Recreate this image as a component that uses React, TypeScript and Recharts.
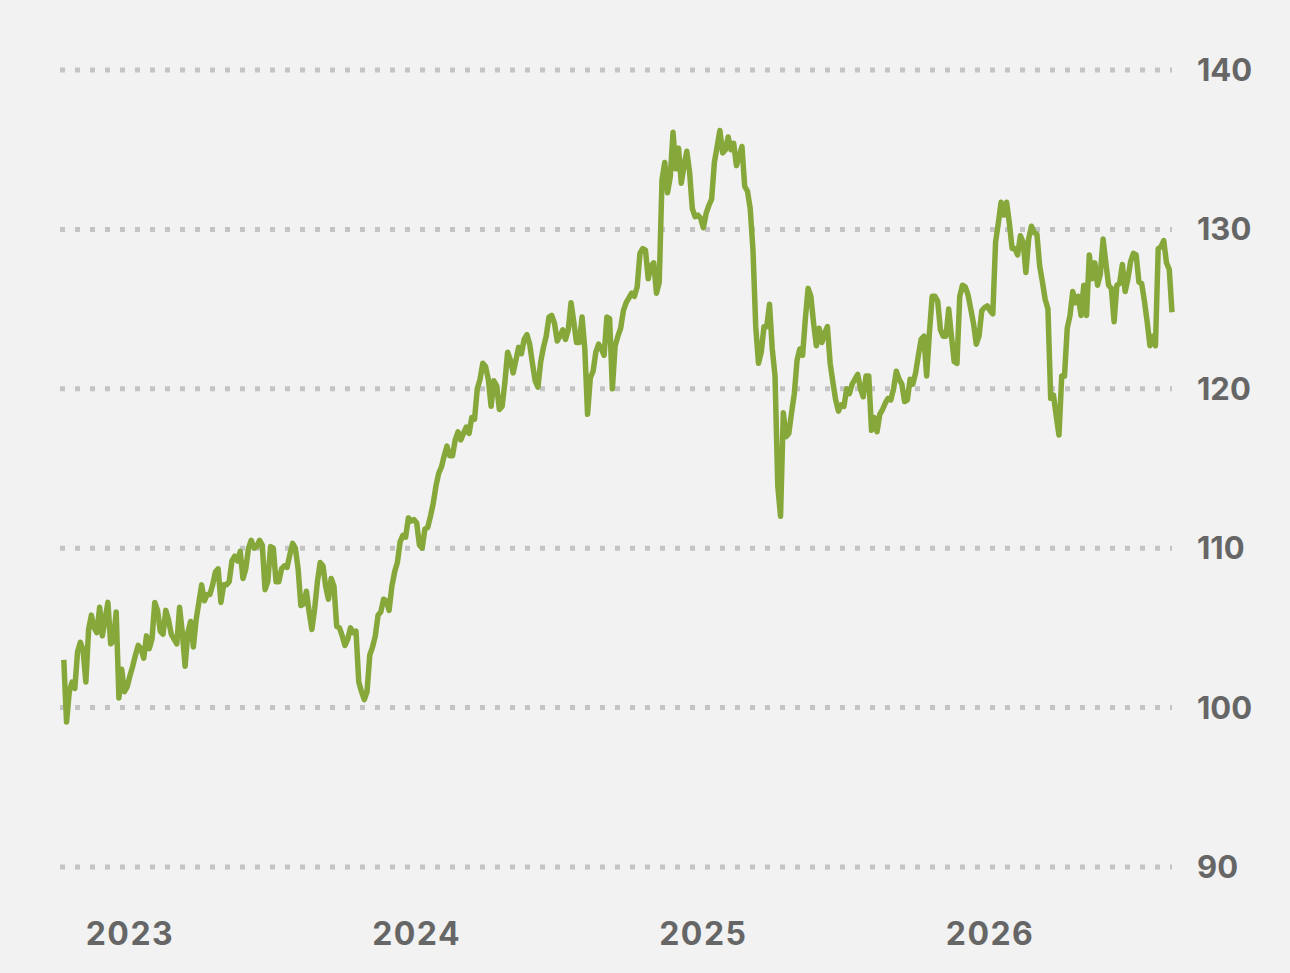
import * as React from "react"
import { CartesianGrid, Line, LineChart, XAxis, YAxis } from "recharts"

const stepsPerYear = 104
const firstStep2022 = 80
const values2022 = [
  103.0, 99.1, 101.0, 101.6, 101.2, 103.5, 104.1, 103.6, 101.6, 104.9, 105.8, 105.0,
  104.7, 106.3, 104.5, 105.6, 106.6, 104.0, 104.2, 106.0, 100.6, 102.4, 101.0, 101.3,
]
const values2023 = [
  102.0, 102.6, 103.3, 103.9, 103.7, 103.1, 104.5, 103.7, 104.3, 106.6, 106.1, 104.8,
  104.6, 106.1, 105.5, 104.6, 104.3, 104.0, 106.3, 104.7, 102.6, 104.7, 105.4, 103.8,
  105.5, 106.6, 107.7, 106.7, 107.1, 107.1, 107.7, 108.5, 108.7, 106.6, 107.7, 107.7,
  107.9, 109.2, 109.5, 109.2, 109.8, 108.1, 108.7, 110.0, 110.5, 110.0, 110.1, 110.5,
  110.2, 107.4, 107.9, 110.1, 110.0, 107.9, 107.9, 108.7, 108.9, 108.8, 109.6, 110.3,
  110.0, 108.7, 106.4, 106.5, 107.3, 106.0, 104.9, 106.2, 107.9, 109.1, 108.9, 107.6,
  106.8, 108.1, 107.6, 105.1, 105.0, 104.5, 103.9, 104.3, 105.0, 104.7, 104.8, 101.6,
  101.0, 100.5, 101.0, 103.3, 103.8, 104.5, 105.8, 106.0, 106.8, 106.7, 106.1, 107.6,
  108.5, 109.1, 110.4, 110.8, 110.7, 111.9, 111.7, 111.8,
]
const values2024 = [
  111.6, 110.2, 110.0, 111.2, 111.3, 112.0, 112.8, 113.9, 114.7, 115.1, 115.8, 116.4,
  115.8, 115.8, 116.8, 117.3, 116.8, 117.2, 117.6, 117.2, 118.2, 118.1, 120.0, 120.6,
  121.6, 121.4, 120.6, 118.9, 120.5, 120.2, 118.7, 118.9, 120.4, 122.3, 121.8, 121.0,
  121.8, 122.6, 122.2, 123.1, 123.4, 122.8, 121.6, 120.5, 120.1, 121.7, 122.6, 123.3,
  124.5, 124.6, 124.1, 123.0, 123.3, 123.7, 123.1, 123.7, 125.4, 124.2, 122.9, 122.9,
  124.5, 122.5, 118.4, 120.7, 121.1, 122.3, 122.8, 122.5, 122.1, 124.5, 124.4, 120.0,
  122.7, 123.3, 123.8, 124.9, 125.4, 125.7, 126.0, 125.8, 126.4, 128.5, 128.8, 128.7,
  126.9, 127.7, 127.9, 126.0, 126.7, 133.1, 134.2, 132.3, 133.3, 136.1, 133.8, 135.1,
  132.9, 134.0, 134.9, 133.6, 131.3, 130.8, 130.9, 130.7,
]
const values2025 = [
  130.1, 131.0, 131.5, 131.9, 134.2, 135.2, 136.2, 134.8, 135.0, 135.8, 135.0, 135.4,
  134.0, 134.6, 135.2, 132.7, 132.4, 131.3, 128.7, 123.9, 121.6, 122.3, 123.9, 123.9,
  125.3, 122.5, 120.8, 113.9, 112.0, 118.5, 117.0, 117.2, 118.5, 119.7, 121.8, 122.5,
  122.1, 124.4, 126.3, 125.8, 124.1, 122.7, 123.8, 122.9, 123.5, 123.9, 121.6, 120.4,
  119.3, 118.6, 119.0, 118.9, 120.0, 119.7, 120.3, 120.6, 120.9, 120.0, 119.5, 120.8,
  120.8, 117.4, 118.2, 117.3, 118.4, 118.7, 119.1, 119.4, 119.3, 120.0, 121.1, 120.6,
  120.3, 119.2, 119.3, 120.6, 120.3, 121.0, 122.1, 123.1, 123.3, 120.8, 123.5, 125.8,
  125.8, 125.5, 123.7, 123.3, 123.3, 125.0, 123.3, 121.7, 121.6, 125.8, 126.5, 126.4,
  125.9, 125.0, 124.1, 122.8, 123.3, 124.9, 125.1, 125.2,
]
const values2026 = [
  124.9, 124.7, 129.2, 130.4, 131.7, 130.9, 131.7, 130.4, 128.8, 128.8, 128.4, 129.6,
  129.2, 127.3, 129.4, 130.2, 129.8, 129.7, 127.7, 126.7, 125.6, 125.0, 119.4, 119.6,
  118.3, 117.1, 120.8, 120.8, 123.8, 124.6, 126.1, 125.4, 125.8, 124.6, 126.5, 124.6,
  128.4, 126.9, 127.9, 126.5, 127.2, 129.4, 127.9, 126.5, 126.3, 124.2, 126.5, 126.6,
  127.8, 126.1, 126.9, 128.0, 128.5, 128.4, 126.7, 126.6, 125.5, 124.2, 122.7, 123.3,
  122.7, 128.8, 128.9, 129.3, 127.9, 127.5, 124.8,
]

const yearTicks = [2023, 2024, 2025, 2026]
const valueTicks = [90, 100, 110, 120, 130, 140]

function toPoints(year: number, values: number[], firstStep = 0) {
  return values.map((v, i) => ({ t: year + (firstStep + i) / stepsPerYear, v }))
}

const data = [
  ...toPoints(2022, values2022, firstStep2022),
  ...toPoints(2023, values2023),
  ...toPoints(2024, values2024),
  ...toPoints(2025, values2025),
  ...toPoints(2026, values2026),
]

const fontFamily = "Inter, 'Noto Sans', sans-serif"

export default function App() {
  return (
    <div
      style={{
        position: "absolute",
        left: 0,
        top: 0,
        width: 1290,
        height: 973,
        background: "#f2f2f2",
      }}
    >
      <LineChart width={1290} height={973} data={data} margin={{ top: 70, right: 0, bottom: 0, left: 60 }}>
        <CartesianGrid
          vertical={false}
          stroke="#c4c4c4"
          strokeWidth={5}
          strokeDasharray="5 10"
        />
        <XAxis
          dataKey="t"
          type="number"
          domain={[2022.756, 2026.634]}
          ticks={yearTicks}
          tickFormatter={(t) => String(t)}
          axisLine={false}
          tickLine={false}
          tickSize={0}
          tickMargin={55}
          height={106}
          tick={{ fontFamily, fontSize: 32, fontWeight: 700, fill: "#666666", letterSpacing: 1.5 }}
          interval={0}
        />
        <YAxis
          orientation="right"
          domain={[90, 140]}
          ticks={valueTicks}
          axisLine={false}
          tickLine={false}
          tickSize={0}
          tickMargin={25}
          width={118}
          tick={{ fontFamily, fontSize: 31, fontWeight: 700, fill: "#666666" }}
          interval={0}
        />
        <Line
          type="linear"
          dataKey="v"
          stroke="#86a83a"
          strokeWidth={5.5}
          strokeLinejoin="round"
          dot={false}
          isAnimationActive={false}
        />
      </LineChart>
    </div>
  )
}
